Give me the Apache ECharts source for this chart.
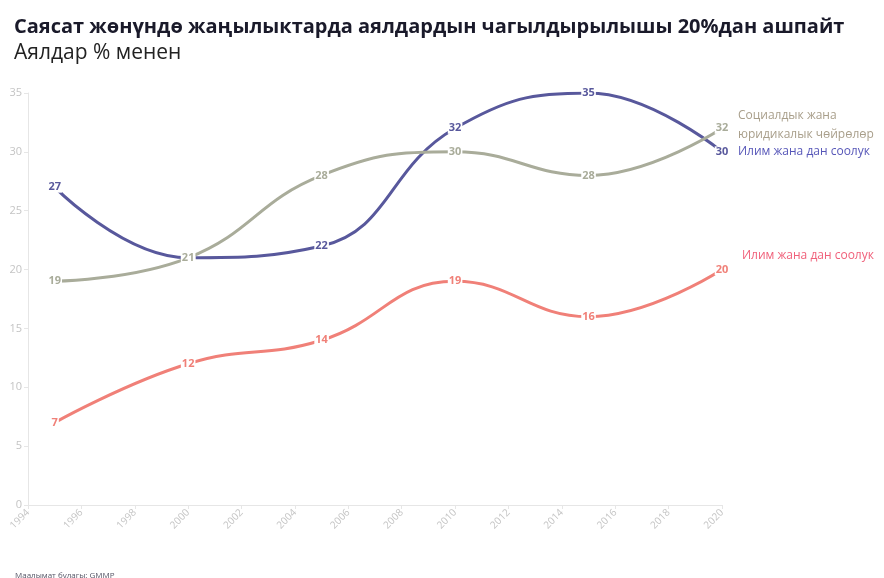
<!DOCTYPE html>
<html><head><meta charset="utf-8">
<script src="https://cdn.jsdelivr.net/npm/echarts@6/dist/echarts.min.js"></script>
<style>html,body{margin:0;padding:0;background:#fff}#c{width:884px;height:578px}</style>
</head><body><div id="c"></div>
<script>
const years = [1995, 2000, 2005, 2010, 2015, 2020];
const socialLegal = [19, 21, 28, 30, 28, 32];
const scienceBlue = [27, 21, 22, 32, 35, 30];
const scienceRed = [7, 12, 14, 19, 16, 20];
const seriesNames = ['Социалдык жана\nюридикалык чөйрөлөр', 'Илим жана дан соолук', 'Илим жана дан соолук'];
const colors = ['#a9ac9a', '#58589c', '#f08078'];
const labelColors = ['#a89e8a', '#5656b8', '#f0607a'];
const titleText = 'Саясат жөнүндө жаңылыктарда аялдардын чагылдырылышы 20%дан ашпайт';
const subtitleText = 'Аялдар % менен';
const sourceText = 'Маалымат булагы: GMMP';

const chart = echarts.init(document.getElementById('c'));
const dataSets = [socialLegal, scienceBlue, scienceRed];
const endOffsets = [[8, -3], [8, 0], [12, -14]];
chart.setOption({
  animation: false,
  title: [
    {text: titleText, left: 9, top: 12, textStyle: {fontFamily: 'Open Sans', fontWeight: 'bold', fontSize: 20, color: '#1a1a2a'}},
    {text: subtitleText, left: 9, top: 38, textStyle: {fontFamily: 'Open Sans', fontWeight: 'normal', fontSize: 21, color: '#222'}},
    {text: sourceText, left: 10, top: 567, textStyle: {fontFamily: 'Open Sans', fontWeight: 'normal', fontSize: 8, color: '#556'}}
  ],
  grid: {left: 28, right: 162, top: 93, bottom: 73},
  xAxis: {
    type: 'value', min: 1994, max: 2020, interval: 2,
    axisLine: {lineStyle: {color: '#e6e6e6'}},
    axisTick: {show: true, length: 4, lineStyle: {color: '#e6e6e6'}},
    splitLine: {show: false},
    axisLabel: {rotate: 45, color: '#c4c4c4', fontSize: 10, fontFamily: 'Open Sans', margin: 6, formatter: v => String(v)}
  },
  yAxis: {
    type: 'value', min: 0, max: 35, interval: 5,
    axisLine: {show: true, lineStyle: {color: '#e6e6e6'}},
    axisTick: {show: true, length: 4, lineStyle: {color: '#e6e6e6'}},
    splitLine: {show: false},
    axisLabel: {color: '#c4c4c4', fontSize: 11, fontFamily: 'Open Sans', margin: 6}
  },
  series: dataSets.map((d, i) => ({
    type: 'line',
    name: seriesNames[i],
    smooth: 0.45,
    symbol: 'circle',
    symbolSize: 1,
    showSymbol: true,
    data: years.map((y, j) => [y, d[j]]),
    lineStyle: {color: colors[i], width: 3},
    itemStyle: {color: colors[i], borderWidth: 0},
    label: {
      show: true, position: 'inside', color: colors[i], fontSize: 11, fontWeight: 'bold',
      fontFamily: 'Open Sans', backgroundColor: '#fff', padding: [0, 1],
      formatter: p => p.value[1]
    },
    endLabel: {
      show: true, formatter: seriesNames[i], color: labelColors[i], fontSize: 12,
      fontFamily: 'Open Sans', offset: endOffsets[i], lineHeight: 19, align: 'left'
    },
    z: 3 - i
  }))
});
</script></body></html>
